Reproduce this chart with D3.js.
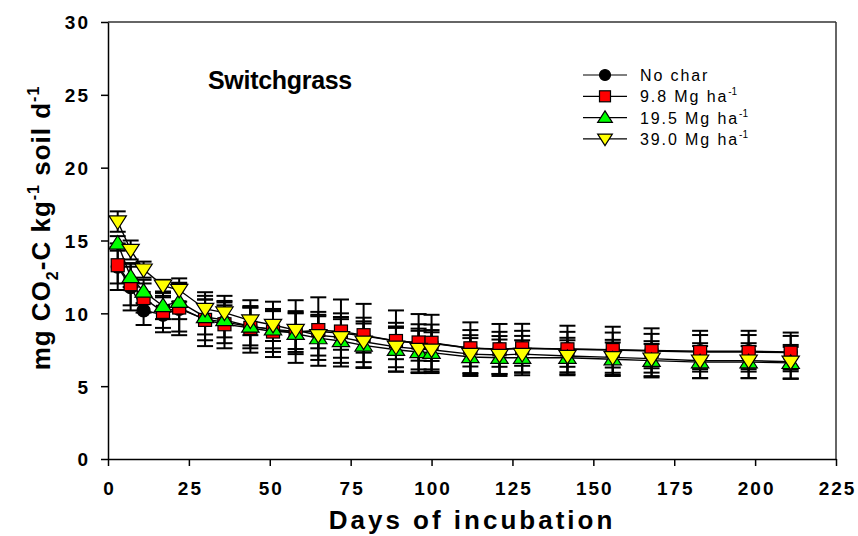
<!DOCTYPE html>
<html>
<head>
<meta charset="utf-8">
<script src="https://cdn.jsdelivr.net/npm/d3@7"></script>
<style>
  html, body { margin: 0; padding: 0; background: #fff; }
  svg { display: block; font-family: "Liberation Sans", Arial, sans-serif; }
</style>
</head>
<body>
<svg id="chart" width="858" height="536"></svg>
<script>
// Incubation days (sampling dates)
const days = [3, 7, 11, 17, 22, 30, 36, 44, 51, 58, 65, 72, 79, 89, 96, 100, 112, 121, 128, 142, 156, 168, 183, 198, 211];

// Mean respiration rate, mg CO2-C kg-1 soil d-1
const noChar   = [13.2, 11.8, 10.2, 9.9, 10.3, 9.6, 9.4, 9.1, 8.9, 8.75, 8.75, 8.65, 8.45, 8.1, 7.95, 7.95, 7.6, 7.55, 7.6, 7.55, 7.5, 7.45, 7.4, 7.4, 7.35];
const char98   = [13.3, 12.0, 11.05, 10.1, 10.4, 9.55, 9.25, 9.0, 8.75, 8.7, 8.85, 8.75, 8.5, 8.1, 8.0, 7.98, 7.6, 7.53, 7.6, 7.53, 7.48, 7.41, 7.34, 7.34, 7.3];
const char195  = [14.8, 12.5, 11.5, 10.5, 10.8, 9.75, 9.55, 9.1, 8.9, 8.6, 8.3, 8.1, 7.8, 7.5, 7.35, 7.3, 7.0, 6.95, 6.95, 6.95, 6.85, 6.75, 6.65, 6.65, 6.6];
const char390  = [16.3, 14.35, 13.0, 11.9, 11.6, 10.3, 10.05, 9.5, 9.2, 8.85, 8.5, 8.35, 8.05, 7.7, 7.55, 7.5, 7.2, 7.14, 7.2, 7.07, 6.98, 6.89, 6.75, 6.75, 6.68];

// Error bar half-widths
const noCharErr  = [1.6, 1.6, 1.0, 1.2, 1.8, 1.85, 1.8, 1.8, 1.9, 2.15, 2.35, 2.3, 2.2, 2.1, 2.0, 1.95, 1.78, 1.72, 1.68, 1.6, 1.58, 1.52, 1.4, 1.4, 1.33];
const char98Err  = [1.25, 1.45, 1.0, 1.1, 1.65, 1.4, 1.3, 1.4, 1.4, 1.35, 1.25, 1.25, 1.2, 1.25, 1.25, 1.25, 1.25, 1.2, 1.2, 1.2, 1.2, 1.18, 1.17, 1.17, 1.15];
const char195Err = [0.5, 0.7, 0.8, 0.9, 1.2, 1.2, 1.2, 1.3, 1.3, 1.4, 1.5, 1.5, 1.5, 1.5, 1.45, 1.4, 1.3, 1.25, 1.2, 1.2, 1.15, 1.15, 1.1, 1.1, 1.1];
const char390Err = [0.7, 0.65, 0.55, 0.4, 0.8, 0.9, 0.8, 1.0, 1.1, 1.3, 1.4, 1.4, 1.4, 1.4, 1.4, 1.35, 1.3, 1.3, 1.25, 1.25, 1.2, 1.2, 1.2, 1.2, 1.15];

const seriesNames = ["No char", "9.8 Mg ha", "19.5 Mg ha", "39.0 Mg ha"];
const seriesSup   = ["", "-1", "-1", "-1"];
const seriesColors = ["#000000", "#ff0000", "#00ff00", "#ffff00"];
const seriesShapes = ["circle", "square", "triangleUp", "triangleDown"];
const seriesValues = [noChar, char98, char195, char390];
const seriesErrors = [noCharErr, char98Err, char195Err, char390Err];

const xTicks = [0, 25, 50, 75, 100, 125, 150, 175, 200, 225];
const yTicks = [0, 5, 10, 15, 20, 25, 30];

const svg = d3.select("#chart");
const x = d3.scaleLinear().domain([0, 225]).range([108, 836]);
const y = d3.scaleLinear().domain([0, 30]).range([459, 22]);

// Frame: top and right edges
svg.append("line").attr("x1", x(0)).attr("x2", x(225)).attr("y1", y(30)).attr("y2", y(30))
  .attr("stroke", "#333").attr("stroke-width", 1.5);
svg.append("line").attr("x1", x(225)).attr("x2", x(225)).attr("y1", y(30)).attr("y2", y(0))
  .attr("stroke", "#333").attr("stroke-width", 1.5);

// Axes
const xAxis = svg.append("g").attr("transform", `translate(0,${y(0)})`)
  .call(d3.axisBottom(x).tickValues(xTicks).tickSize(7).tickSizeOuter(0).tickPadding(16).tickFormat(d3.format("d")));
const yAxis = svg.append("g").attr("transform", `translate(${x(0)},0)`)
  .call(d3.axisLeft(y).tickValues(yTicks).tickSize(7).tickSizeOuter(0).tickPadding(11).tickFormat(d3.format("d")));
[xAxis, yAxis].forEach(g => {
  g.select(".domain").attr("stroke", "#000").attr("stroke-width", 1.5);
  g.selectAll(".tick line").attr("stroke", "#000").attr("stroke-width", 1.5);
  g.selectAll(".tick text").attr("fill", "#000")
    .style("font-family", "'Liberation Sans', Arial, sans-serif")
    .style("font-weight", "bold").style("font-size", "19px").style("letter-spacing", "2px");
});
xAxis.selectAll(".tick text").attr("dx", "1px");
yAxis.selectAll(".tick text").attr("dy", "0.36em");

// Error bars for all series
const capHalf = 8;
seriesValues.forEach((vals, si) => {
  const errs = seriesErrors[si];
  const g = svg.append("g").attr("stroke", "#000").attr("stroke-width", 2).attr("fill", "none");
  days.forEach((d, i) => {
    const cx = x(d), top = y(vals[i] + errs[i]), bot = y(vals[i] - errs[i]);
    g.append("line").attr("x1", cx).attr("x2", cx).attr("y1", top).attr("y2", bot);
    g.append("line").attr("x1", cx - capHalf).attr("x2", cx + capHalf).attr("y1", top).attr("y2", top);
    g.append("line").attr("x1", cx - capHalf).attr("x2", cx + capHalf).attr("y1", bot).attr("y2", bot);
  });
});

// Connecting lines
const line = d3.line().x((d, i) => x(days[i])).y(d => y(d));
seriesValues.forEach(vals => {
  svg.append("path").datum(vals).attr("d", line)
    .attr("fill", "none").attr("stroke", "#000").attr("stroke-width", 1.4);
});

// Marker shapes
function drawMarker(g, shape, cx, cy, color, s) {
  const h = s / 2;
  let el;
  if (shape === "circle") {
    el = g.append("circle").attr("cx", cx).attr("cy", cy).attr("r", h);
  } else if (shape === "square") {
    el = g.append("rect").attr("x", cx - h).attr("y", cy - h).attr("width", s).attr("height", s);
  } else if (shape === "triangleUp") {
    const t = s * 0.58;
    el = g.append("path").attr("d", `M${cx},${cy - t * 1.05} L${cx + t * 1.15},${cy + t * 0.75} L${cx - t * 1.15},${cy + t * 0.75} Z`);
  } else {
    const t = s * 0.58;
    el = g.append("path").attr("d", `M${cx},${cy + t * 1.05} L${cx + t * 1.15},${cy - t * 0.75} L${cx - t * 1.15},${cy - t * 0.75} Z`);
  }
  el.attr("fill", color).attr("stroke", "#000").attr("stroke-width", 1.2);
}

seriesValues.forEach((vals, si) => {
  const g = svg.append("g");
  days.forEach((d, i) => drawMarker(g, seriesShapes[si], x(d), y(vals[i]), seriesColors[si], 13));
});

// Panel title
svg.append("text").attr("x", 208).attr("y", 89)
  .style("font-weight", "bold").style("font-size", "25px").style("letter-spacing", "-0.3px")
  .text("Switchgrass");

// Legend
const legend = svg.append("g");
seriesNames.forEach((name, i) => {
  const ly = 75 + i * 21.3;
  legend.append("line").attr("x1", 583).attr("x2", 627).attr("y1", ly).attr("y2", ly)
    .attr("stroke", "#000").attr("stroke-width", 1.2);
  drawMarker(legend, seriesShapes[i], 605, ly, seriesColors[i], 11);
  const t = legend.append("text").attr("x", 640).attr("y", ly + 6)
    .style("font-size", "16px").style("letter-spacing", "1.9px").text(name);
  if (seriesSup[i]) {
    t.append("tspan").attr("dy", -7).style("font-size", "10px").style("letter-spacing", "0px").text(seriesSup[i]);
  }
});

// Axis titles
svg.append("text").attr("x", 472).attr("y", 529).attr("text-anchor", "middle")
  .style("font-weight", "bold").style("font-size", "26px").style("letter-spacing", "3px")
  .text("Days of incubation");

const yt = svg.append("text").attr("transform", "translate(50,228) rotate(-90)")
  .attr("text-anchor", "middle")
  .style("font-weight", "bold").style("font-size", "26px").style("letter-spacing", "1px");
yt.append("tspan").text("mg CO");
yt.append("tspan").attr("dy", 8).style("font-size", "16px").text("2");
yt.append("tspan").attr("dy", -8).text("-C kg");
yt.append("tspan").attr("dy", -11).style("font-size", "16px").text("-1");
yt.append("tspan").attr("dy", 11).text(" soil d");
yt.append("tspan").attr("dy", -11).style("font-size", "16px").text("-1");
</script>
</body>
</html>
